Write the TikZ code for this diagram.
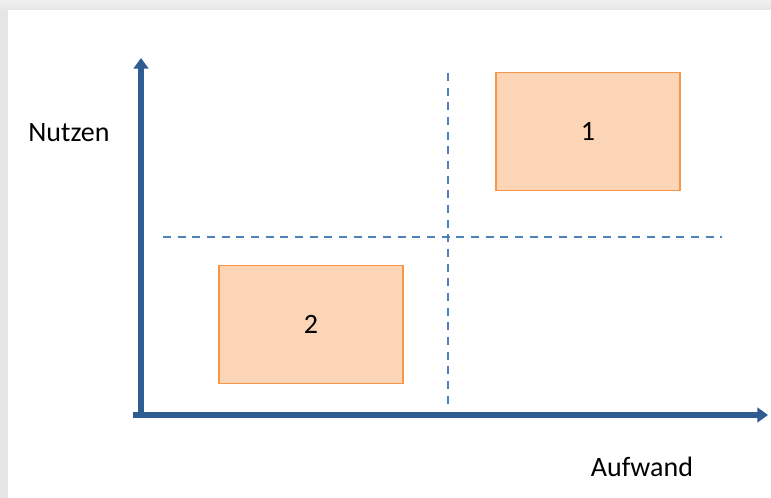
\documentclass[tikz,border=0pt]{standalone}
\usepackage{fontspec}
\setmainfont{Carlito}
\usetikzlibrary{arrows.meta}
\definecolor{axisblue}{HTML}{2F5D92}
\definecolor{dashblue}{HTML}{4F81BD}
\definecolor{boxfill}{HTML}{FBD5B5}
\definecolor{boxline}{HTML}{F79646}
\definecolor{framegray}{HTML}{E6E6E6}
\tikzset{
  axis/.style={draw=axisblue, line width=4pt, -{Triangle[length=8pt,width=11pt]}},
  guide/.style={draw=dashblue, line width=1.2pt, dash pattern=on 6pt off 5pt},
  quadbox/.style={draw=boxline, fill=boxfill, line width=0.9pt, minimum width=138pt, minimum height=88pt, font=\fontsize{21}{24}\selectfont},
  lbl/.style={font=\fontsize{21}{24}\selectfont}
}
\begin{document}
\begin{tikzpicture}[x=0.75pt,y=-0.75pt]
\useasboundingbox (0,0) rectangle (771,498);
\fill[framegray] (0,0) rectangle (771,498);
\fill[top color=framegray!60, bottom color=framegray] (0,0) rectangle (771,10);
\fill[white] (8,10) rectangle (771,498);
\coordinate (ystart) at (141,418);
\coordinate (ytip) at (141,58);
\coordinate (xstart) at (133,415);
\coordinate (xtip) at (768,415);
\coordinate (vtop) at (448,73);
\coordinate (vbot) at (448,405);
\coordinate (hleft) at (163,237);
\coordinate (hright) at (722,237);
\draw[guide] (vtop) -- (vbot);
\draw[guide] (hleft) -- (hright);
\node[quadbox] (b1) at (588,131.5) {1};
\node[quadbox] (b2) at (311,324.5) {2};
\draw[axis] (ystart) -- (ytip);
\draw[axis] (xstart) -- (xtip);
\node[lbl] (nutzen) at (69,133) {Nutzen};
\node[lbl] (aufwand) at (642,467) {Aufwand};
\end{tikzpicture}
\end{document}
